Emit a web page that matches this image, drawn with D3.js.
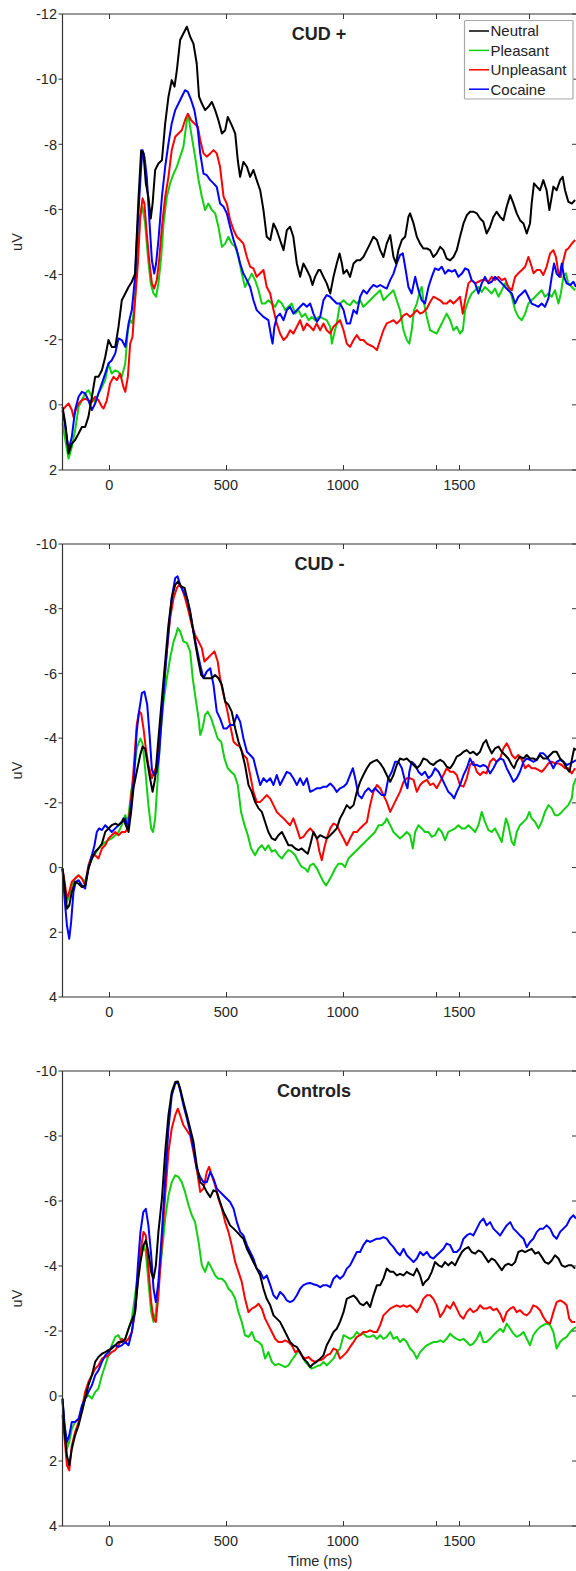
<!DOCTYPE html>
<html><head><meta charset="utf-8">
<script src="https://cdn.jsdelivr.net/npm/d3@7"></script>
<style>html,body{margin:0;padding:0;background:#fff}</style>
</head><body><svg id="chart" width="576" height="1571"></svg>
<script>
// ---------------- DATA ----------------
const seriesNames = ["Neutral", "Pleasant", "Unpleasant", "Cocaine"];
const panelTitles = ["CUD +", "CUD -", "Controls"];
const yTicksPanel1 = [-12, -10, -8, -6, -4, -2, 0, 2];
const yTicksPanel23 = [-10, -8, -6, -4, -2, 0, 2, 4];
const xTicks = [0, 500, 1000, 1500];
const xExtraTicks = [1400, 1800];
const xLabel = "Time (ms)";
const yLabel = "uV";

// CUD + : [time ms, amplitude uV]
const cudPlusNeutral = [[-200,0.06],[-188,0.57],[-174,1.49],[-160,1.19],[-146,1.08],[-131,0.88],[-117,0.68],[-103,0.68],[-89,0.37],[-74,-0.25],[-60,-0.86],[-46,-0.86],[-31,-1.06],[-17,-1.47],[-3,-1.99],[11,-1.78],[26,-1.78],[40,-2.40],[54,-3.21],[69,-3.42],[83,-3.62],[97,-3.78],[111,-4.03],[118,-5.16],[126,-6.39],[137,-7.82],[147,-7.72],[157,-6.80],[168,-6.39],[178,-5.72],[186,-6.18],[197,-7.21],[211,-7.41],[226,-7.51],[240,-8.64],[254,-9.46],[268,-9.97],[280,-9.77],[290,-10.28],[304,-11.20],[318,-11.40],[333,-11.61],[347,-11.30],[361,-11.09],[375,-10.48],[385,-9.46],[397,-9.25],[411,-9.05],[425,-9.15],[440,-9.30],[454,-9.05],[468,-8.74],[483,-8.33],[497,-8.43],[508,-8.84],[525,-8.59],[540,-8.33],[551,-7.51],[561,-7.00],[575,-7.46],[590,-7.31],[604,-7.00],[618,-7.21],[632,-6.90],[647,-6.59],[661,-5.98],[675,-5.16],[690,-5.06],[704,-5.57],[718,-5.36],[732,-5.06],[747,-4.75],[761,-5.36],[775,-5.47],[789,-5.16],[804,-4.34],[818,-3.93],[832,-4.34],[847,-4.14],[861,-3.93],[871,-3.68],[882,-3.93],[897,-4.14],[904,-4.14],[918,-3.93],[932,-3.73],[947,-3.42],[961,-3.93],[975,-4.34],[987,-4.65],[997,-4.34],[1004,-4.03],[1018,-4.14],[1032,-3.93],[1047,-4.34],[1061,-4.44],[1075,-4.44],[1089,-4.54],[1104,-4.75],[1118,-4.95],[1132,-5.16],[1147,-5.06],[1161,-4.75],[1175,-4.54],[1189,-4.95],[1204,-5.21],[1218,-4.54],[1229,-4.34],[1239,-4.75],[1254,-5.06],[1268,-5.16],[1282,-5.77],[1289,-5.88],[1304,-5.57],[1318,-5.16],[1332,-4.95],[1346,-4.80],[1361,-4.80],[1375,-4.75],[1389,-4.54],[1403,-4.65],[1418,-4.85],[1432,-4.75],[1446,-4.49],[1461,-4.44],[1475,-4.54],[1489,-4.75],[1503,-5.16],[1518,-5.57],[1532,-5.82],[1546,-5.93],[1560,-5.93],[1575,-5.88],[1589,-5.72],[1603,-5.62],[1617,-5.26],[1632,-5.47],[1646,-5.77],[1660,-5.93],[1675,-5.77],[1689,-5.67],[1703,-6.08],[1718,-6.44],[1732,-6.18],[1746,-5.88],[1760,-5.67],[1775,-5.57],[1789,-5.26],[1803,-5.57],[1810,-6.18],[1820,-6.80],[1832,-6.70],[1846,-6.59],[1860,-6.90],[1874,-6.59],[1886,-5.98],[1896,-6.39],[1903,-6.70],[1917,-6.59],[1932,-6.90],[1943,-7.00],[1953,-6.59],[1967,-6.24],[1982,-6.18],[1996,-6.29]];
const cudPlusPleasant = [[-200,0.57],[-188,1.08],[-174,1.65],[-160,1.29],[-146,0.78],[-131,0.06],[-117,-0.14],[-103,-0.35],[-89,-0.45],[-74,-0.25],[-60,-0.09],[-46,-0.35],[-31,-0.55],[-17,-0.76],[-3,-1.27],[11,-0.96],[26,-1.06],[40,-1.01],[54,-0.86],[69,-1.27],[80,-2.29],[90,-2.60],[100,-2.50],[111,-3.32],[123,-4.75],[133,-5.77],[143,-6.08],[154,-5.57],[166,-4.54],[178,-3.73],[190,-3.42],[201,-3.32],[211,-3.73],[223,-4.54],[233,-5.57],[247,-6.39],[261,-6.80],[276,-7.10],[290,-7.31],[304,-7.62],[318,-7.92],[333,-8.74],[340,-8.84],[354,-8.23],[368,-7.62],[383,-6.90],[397,-6.39],[411,-5.98],[425,-6.18],[440,-5.98],[454,-5.88],[468,-5.47],[483,-4.85],[497,-4.95],[511,-5.16],[525,-4.95],[540,-4.85],[554,-4.54],[568,-4.03],[582,-3.62],[597,-3.83],[611,-4.03],[625,-3.83],[640,-3.52],[654,-3.11],[668,-3.11],[682,-3.21],[697,-3.11],[711,-3.01],[725,-3.21],[740,-3.11],[754,-2.91],[768,-3.01],[782,-3.11],[797,-2.80],[811,-2.91],[825,-2.70],[840,-2.80],[854,-2.60],[868,-2.70],[882,-2.60],[897,-2.70],[904,-2.70],[918,-2.65],[932,-2.60],[947,-2.40],[954,-1.88],[964,-2.19],[975,-2.50],[989,-3.11],[1004,-3.21],[1018,-3.11],[1032,-3.06],[1047,-3.21],[1061,-3.11],[1075,-3.21],[1089,-3.01],[1104,-3.11],[1118,-3.21],[1132,-3.32],[1147,-3.42],[1161,-3.52],[1175,-3.21],[1189,-3.32],[1204,-3.42],[1218,-3.52],[1232,-3.21],[1246,-2.91],[1261,-2.29],[1275,-1.99],[1286,-1.88],[1296,-2.29],[1306,-2.91],[1318,-3.11],[1332,-3.52],[1339,-3.62],[1346,-3.21],[1361,-2.70],[1375,-2.29],[1389,-2.24],[1403,-2.19],[1418,-2.40],[1432,-2.60],[1446,-2.80],[1461,-2.60],[1475,-2.29],[1489,-2.40],[1503,-2.19],[1515,-2.29],[1525,-2.91],[1539,-3.21],[1553,-3.42],[1568,-3.52],[1582,-3.62],[1596,-3.47],[1610,-3.62],[1625,-3.52],[1639,-3.42],[1653,-3.57],[1668,-3.32],[1682,-3.52],[1696,-3.73],[1710,-3.62],[1725,-3.32],[1739,-2.91],[1753,-2.70],[1768,-2.60],[1782,-2.80],[1796,-3.11],[1810,-3.21],[1825,-3.32],[1839,-3.42],[1853,-3.52],[1867,-3.32],[1882,-3.42],[1896,-3.32],[1910,-3.52],[1925,-3.11],[1935,-3.42],[1946,-3.93],[1957,-4.04],[1967,-3.73],[1982,-3.62],[1996,-3.52]];
const cudPlusUnpleasant = [[-200,0.16],[-188,0.06],[-174,-0.04],[-160,0.16],[-153,0.37],[-143,0.16],[-131,-0.04],[-117,-0.14],[-103,-0.19],[-89,-0.14],[-74,-0.09],[-60,-0.25],[-46,-0.14],[-31,0.06],[-24,0.11],[-10,-0.14],[4,-0.66],[19,-0.86],[33,-0.76],[47,-0.96],[61,-0.55],[69,-0.40],[80,-0.86],[90,-1.88],[100,-2.09],[111,-3.21],[123,-4.34],[133,-5.77],[143,-6.34],[151,-6.18],[161,-5.26],[173,-4.34],[183,-3.73],[193,-3.57],[204,-3.83],[214,-4.44],[226,-5.47],[240,-6.39],[254,-7.00],[268,-7.82],[283,-8.23],[297,-8.33],[311,-8.43],[325,-8.74],[337,-8.94],[351,-8.74],[365,-8.64],[380,-8.53],[390,-8.13],[404,-7.72],[418,-7.62],[433,-7.72],[447,-7.82],[461,-7.72],[475,-7.31],[490,-6.39],[504,-6.18],[518,-5.67],[533,-5.37],[547,-5.16],[561,-5.06],[575,-4.95],[590,-4.54],[604,-4.24],[618,-4.19],[632,-3.93],[647,-4.04],[661,-4.14],[675,-3.62],[690,-3.42],[704,-2.91],[718,-2.50],[732,-2.19],[747,-1.99],[761,-2.09],[775,-2.29],[789,-2.19],[804,-2.40],[818,-2.60],[832,-2.29],[847,-2.50],[861,-2.40],[875,-2.29],[889,-2.50],[904,-2.29],[918,-2.50],[932,-2.29],[947,-2.19],[961,-2.40],[975,-2.50],[989,-2.60],[1004,-2.29],[1018,-1.88],[1032,-1.78],[1047,-1.99],[1061,-2.14],[1075,-1.99],[1089,-1.99],[1104,-1.88],[1118,-1.83],[1132,-1.78],[1147,-1.68],[1161,-1.99],[1175,-2.29],[1189,-2.50],[1204,-2.55],[1218,-2.60],[1232,-2.50],[1246,-2.60],[1261,-2.75],[1275,-2.80],[1289,-2.70],[1304,-2.80],[1318,-2.91],[1332,-2.80],[1346,-2.85],[1361,-2.96],[1375,-3.16],[1389,-3.32],[1403,-3.27],[1418,-3.21],[1432,-3.11],[1446,-3.11],[1461,-3.21],[1475,-3.11],[1489,-3.21],[1503,-3.32],[1515,-2.80],[1525,-3.21],[1539,-3.73],[1553,-3.83],[1568,-3.73],[1582,-3.78],[1596,-3.83],[1610,-3.83],[1625,-3.78],[1639,-3.93],[1653,-3.83],[1668,-3.93],[1682,-3.83],[1696,-3.88],[1710,-3.62],[1725,-3.52],[1739,-3.93],[1753,-4.04],[1768,-4.14],[1782,-4.24],[1796,-4.54],[1806,-4.34],[1818,-4.04],[1832,-4.14],[1846,-4.14],[1860,-3.99],[1874,-4.24],[1889,-4.65],[1903,-4.75],[1914,-4.54],[1925,-4.04],[1935,-3.93],[1946,-4.44],[1957,-4.75],[1967,-4.80],[1982,-4.95],[1996,-5.06]];
const cudPlusCocaine = [[-200,0.16],[-188,0.68],[-174,1.39],[-160,0.98],[-146,0.16],[-131,-0.25],[-117,-0.40],[-103,-0.35],[-89,-0.14],[-74,0.16],[-60,-0.04],[-46,-0.35],[-31,-0.66],[-17,-0.96],[-3,-1.27],[11,-1.37],[26,-1.58],[40,-2.04],[54,-1.99],[69,-1.78],[83,-2.50],[97,-2.91],[111,-3.93],[118,-4.95],[126,-5.98],[137,-7.31],[143,-7.82],[151,-7.62],[161,-7.00],[173,-5.57],[183,-4.44],[193,-4.03],[201,-4.34],[211,-5.06],[226,-6.39],[240,-7.31],[254,-8.03],[268,-8.64],[283,-9.05],[297,-9.25],[311,-9.46],[325,-9.66],[337,-9.61],[351,-9.36],[365,-9.05],[380,-8.43],[390,-7.72],[404,-7.10],[418,-7.05],[433,-6.90],[447,-6.80],[461,-6.69],[475,-6.18],[490,-6.08],[504,-5.88],[518,-5.47],[533,-5.06],[547,-4.75],[561,-4.34],[575,-4.03],[590,-3.83],[604,-3.62],[618,-3.21],[632,-2.91],[647,-2.80],[661,-2.70],[682,-2.60],[694,-2.09],[700,-1.88],[708,-2.40],[718,-2.70],[732,-2.80],[747,-2.60],[761,-2.91],[775,-3.01],[789,-2.80],[804,-2.91],[818,-3.01],[832,-3.11],[847,-3.01],[861,-3.11],[875,-2.80],[890,-2.55],[904,-2.70],[918,-3.21],[932,-3.37],[947,-3.32],[961,-3.21],[975,-3.11],[989,-3.11],[1004,-2.91],[1018,-2.50],[1032,-2.50],[1047,-2.91],[1061,-2.80],[1075,-3.32],[1089,-3.52],[1104,-3.42],[1118,-3.57],[1132,-3.68],[1147,-3.62],[1161,-3.68],[1175,-3.62],[1189,-3.57],[1204,-3.83],[1218,-4.03],[1232,-4.34],[1246,-4.60],[1258,-4.65],[1268,-4.24],[1282,-3.62],[1296,-3.42],[1311,-3.93],[1325,-3.52],[1339,-3.21],[1353,-3.11],[1368,-3.62],[1382,-3.93],[1396,-4.19],[1411,-4.14],[1425,-4.24],[1439,-4.03],[1453,-4.14],[1468,-4.09],[1482,-4.14],[1496,-3.93],[1511,-4.03],[1525,-4.19],[1539,-4.14],[1553,-3.83],[1568,-3.73],[1582,-3.42],[1596,-3.73],[1610,-3.93],[1625,-3.73],[1639,-3.78],[1653,-3.93],[1668,-3.83],[1682,-3.73],[1696,-3.62],[1710,-3.52],[1725,-3.42],[1739,-3.11],[1753,-3.32],[1768,-3.42],[1782,-3.52],[1796,-3.32],[1810,-3.11],[1825,-3.06],[1839,-3.01],[1853,-3.11],[1867,-3.01],[1882,-3.27],[1896,-3.93],[1906,-4.34],[1917,-4.03],[1929,-3.93],[1939,-4.34],[1949,-3.93],[1960,-3.73],[1975,-3.68],[1989,-3.78],[2000,-3.62]];

// CUD -
const cudMinusNeutral = [[-200,0.03],[-191,0.55],[-181,1.27],[-171,1.17],[-160,0.75],[-146,0.44],[-131,0.50],[-117,0.60],[-103,0.55],[-89,0.03],[-74,-0.28],[-60,-0.49],[-46,-0.59],[-31,-0.74],[-17,-1.10],[-3,-1.21],[11,-1.31],[26,-1.36],[40,-1.31],[54,-1.41],[61,-1.52],[71,-1.31],[83,-1.10],[94,-1.72],[104,-2.45],[118,-2.96],[133,-3.48],[143,-3.74],[154,-3.67],[166,-3.15],[175,-2.76],[186,-2.34],[197,-2.76],[211,-3.99],[226,-5.23],[240,-6.37],[254,-7.50],[268,-8.33],[283,-8.74],[294,-8.84],[308,-8.69],[323,-8.64],[337,-8.23],[351,-7.71],[365,-7.09],[380,-6.47],[394,-5.95],[408,-5.85],[422,-5.85],[440,-5.85],[454,-5.95],[468,-5.85],[483,-5.64],[497,-5.13],[511,-5.03],[525,-4.82],[540,-4.30],[554,-3.89],[568,-3.58],[582,-3.17],[597,-2.55],[611,-2.34],[625,-2.03],[640,-1.83],[654,-1.72],[668,-1.41],[682,-1.10],[697,-0.90],[711,-0.85],[725,-1.00],[740,-1.10],[754,-0.90],[768,-0.69],[782,-0.69],[797,-0.59],[811,-0.54],[825,-0.59],[840,-0.49],[851,-0.43],[861,-0.69],[875,-1.10],[890,-0.90],[904,-1.00],[918,-0.95],[932,-0.90],[947,-1.00],[961,-1.10],[975,-1.21],[989,-1.52],[1004,-1.72],[1018,-1.93],[1032,-1.83],[1047,-1.93],[1061,-2.34],[1075,-2.65],[1089,-2.86],[1104,-3.07],[1118,-3.22],[1132,-3.28],[1147,-3.33],[1161,-3.22],[1175,-3.07],[1189,-2.86],[1204,-2.65],[1218,-2.86],[1232,-3.17],[1246,-3.37],[1261,-3.33],[1275,-3.37],[1289,-3.27],[1304,-3.17],[1318,-3.07],[1332,-3.17],[1346,-3.37],[1361,-3.33],[1375,-3.22],[1389,-3.17],[1403,-3.27],[1418,-3.33],[1432,-3.27],[1446,-3.12],[1461,-3.07],[1475,-3.22],[1489,-3.43],[1503,-3.48],[1518,-3.58],[1532,-3.63],[1546,-3.53],[1560,-3.58],[1575,-3.48],[1589,-3.58],[1603,-3.84],[1615,-3.94],[1625,-3.74],[1639,-3.53],[1653,-3.68],[1668,-3.74],[1682,-3.58],[1696,-3.48],[1710,-3.37],[1725,-3.17],[1735,-3.07],[1746,-3.28],[1760,-3.43],[1775,-3.37],[1789,-3.48],[1803,-3.37],[1817,-3.37],[1832,-3.33],[1846,-3.48],[1860,-3.37],[1874,-3.37],[1889,-3.48],[1903,-3.58],[1917,-3.58],[1932,-3.37],[1946,-3.27],[1960,-3.07],[1972,-2.96],[1982,-3.33],[1992,-3.68],[2000,-3.63]];
const cudMinusPleasant = [[-200,0.03],[-191,0.55],[-181,1.06],[-171,0.86],[-160,0.55],[-146,0.34],[-131,0.24],[-117,0.34],[-103,0.44],[-89,0.03],[-74,-0.28],[-60,-0.43],[-46,-0.59],[-31,-0.69],[-17,-0.79],[-3,-0.85],[11,-0.90],[26,-1.00],[40,-1.10],[54,-1.31],[69,-1.62],[80,-1.41],[94,-2.34],[104,-2.76],[118,-3.68],[133,-3.99],[143,-3.84],[154,-3.07],[168,-1.93],[180,-1.21],[188,-1.10],[197,-1.52],[208,-2.76],[218,-3.99],[233,-5.13],[247,-5.85],[261,-6.47],[276,-6.99],[286,-7.19],[294,-7.40],[304,-7.30],[318,-6.99],[333,-6.94],[347,-6.68],[358,-5.85],[368,-5.34],[383,-4.61],[390,-4.10],[400,-4.30],[411,-4.72],[422,-4.82],[437,-4.61],[451,-4.30],[465,-3.99],[480,-3.89],[494,-3.37],[508,-3.07],[522,-2.96],[537,-2.86],[551,-2.55],[565,-1.72],[580,-1.31],[594,-1.00],[608,-0.59],[625,-0.38],[640,-0.59],[654,-0.69],[668,-0.54],[682,-0.69],[697,-0.49],[711,-0.54],[725,-0.38],[740,-0.28],[754,-0.43],[768,-0.54],[782,-0.49],[797,-0.38],[811,-0.18],[825,-0.02],[840,0.03],[851,0.13],[861,-0.07],[875,-0.12],[890,0.03],[904,0.24],[918,0.44],[929,0.55],[939,0.44],[954,0.24],[968,0.03],[982,-0.12],[997,-0.12],[1011,-0.02],[1025,-0.28],[1039,-0.38],[1054,-0.49],[1068,-0.59],[1082,-0.69],[1096,-0.79],[1111,-0.90],[1125,-1.00],[1139,-1.10],[1154,-1.31],[1168,-1.31],[1182,-1.41],[1189,-1.52],[1204,-1.31],[1218,-1.10],[1232,-1.00],[1246,-0.90],[1261,-1.00],[1275,-1.10],[1289,-1.00],[1301,-0.59],[1311,-1.10],[1325,-1.31],[1339,-1.21],[1353,-1.10],[1368,-1.10],[1382,-0.95],[1396,-1.00],[1411,-1.21],[1425,-1.10],[1439,-0.85],[1453,-1.10],[1468,-1.16],[1482,-1.21],[1496,-1.31],[1511,-1.21],[1525,-1.21],[1539,-1.31],[1553,-1.21],[1568,-1.10],[1582,-1.31],[1596,-1.72],[1610,-1.41],[1625,-1.16],[1639,-1.10],[1653,-1.21],[1668,-1.00],[1682,-0.79],[1689,-1.10],[1700,-1.52],[1710,-1.31],[1725,-0.79],[1735,-0.69],[1746,-1.10],[1760,-1.31],[1775,-1.41],[1789,-1.52],[1800,-1.72],[1810,-1.52],[1825,-1.41],[1839,-1.21],[1853,-1.41],[1867,-1.72],[1882,-1.93],[1896,-1.83],[1910,-1.62],[1925,-1.62],[1939,-1.72],[1953,-1.83],[1967,-1.93],[1982,-2.14],[1989,-2.55],[2000,-2.76]];
const cudMinusUnpleasant = [[-200,0.03],[-191,0.44],[-181,0.96],[-171,0.75],[-160,0.44],[-146,0.34],[-131,0.24],[-117,0.34],[-103,0.55],[-89,-0.07],[-74,-0.38],[-60,-0.38],[-46,-0.28],[-31,-0.59],[-17,-0.69],[-3,-0.90],[11,-1.00],[26,-1.10],[40,-1.00],[54,-1.10],[69,-1.10],[80,-1.21],[94,-2.13],[104,-2.96],[118,-4.41],[128,-4.82],[137,-4.77],[147,-4.30],[157,-3.68],[168,-3.17],[183,-2.76],[193,-2.96],[204,-3.17],[218,-4.20],[233,-5.54],[247,-6.68],[261,-7.71],[276,-8.33],[290,-8.64],[300,-8.74],[311,-8.64],[325,-8.33],[340,-7.92],[354,-7.50],[368,-7.19],[383,-6.99],[397,-6.78],[408,-6.37],[422,-6.47],[437,-6.58],[451,-6.68],[465,-6.37],[475,-5.85],[490,-5.34],[504,-4.92],[518,-4.41],[533,-3.89],[547,-3.79],[561,-3.74],[575,-3.48],[590,-3.37],[604,-2.86],[618,-2.34],[632,-2.03],[647,-2.03],[661,-2.13],[675,-2.24],[690,-2.13],[704,-1.93],[718,-1.72],[732,-1.62],[747,-1.52],[761,-1.41],[775,-1.31],[789,-1.52],[804,-1.21],[818,-0.90],[832,-0.95],[847,-1.10],[861,-1.21],[875,-1.10],[890,-0.90],[901,-0.49],[911,-0.23],[921,-0.59],[932,-0.90],[947,-1.21],[961,-1.36],[975,-1.31],[989,-1.10],[1004,-0.90],[1018,-0.69],[1032,-0.90],[1047,-1.10],[1061,-1.10],[1075,-1.21],[1089,-1.31],[1104,-1.41],[1118,-1.93],[1132,-2.34],[1147,-2.55],[1161,-2.45],[1175,-2.24],[1189,-2.03],[1204,-1.72],[1218,-1.93],[1232,-2.14],[1246,-2.34],[1261,-2.65],[1275,-2.76],[1289,-2.76],[1304,-2.71],[1318,-2.34],[1332,-2.55],[1346,-2.65],[1361,-2.71],[1375,-2.55],[1389,-2.60],[1403,-2.45],[1418,-2.65],[1432,-2.86],[1446,-3.07],[1461,-2.96],[1475,-2.96],[1489,-2.86],[1503,-2.55],[1518,-2.50],[1532,-2.76],[1546,-3.17],[1560,-3.27],[1575,-2.96],[1589,-2.86],[1603,-2.96],[1617,-2.91],[1632,-3.27],[1646,-3.37],[1660,-3.27],[1675,-3.37],[1689,-3.68],[1703,-3.84],[1715,-3.68],[1725,-3.48],[1739,-3.37],[1753,-3.48],[1768,-3.33],[1782,-3.07],[1796,-3.17],[1810,-3.07],[1825,-3.07],[1839,-3.02],[1853,-2.96],[1867,-3.07],[1882,-3.22],[1896,-3.27],[1910,-3.22],[1925,-3.22],[1939,-3.17],[1953,-3.07],[1967,-3.07],[1982,-2.91],[1996,-3.07]];
const cudMinusCocaine = [[-200,0.03],[-191,0.96],[-181,1.79],[-171,2.20],[-163,1.68],[-153,0.75],[-143,0.44],[-131,0.39],[-117,0.55],[-103,0.65],[-89,0.03],[-74,-0.38],[-63,-0.69],[-53,-1.10],[-43,-1.21],[-31,-1.16],[-17,-1.31],[-3,-1.21],[11,-1.10],[26,-1.21],[40,-1.31],[54,-1.41],[69,-1.52],[80,-1.21],[94,-1.93],[104,-2.55],[118,-4.20],[128,-4.82],[140,-5.39],[151,-5.44],[163,-5.03],[173,-4.10],[183,-3.03],[193,-2.86],[204,-2.96],[214,-3.48],[226,-4.72],[240,-6.06],[254,-7.30],[268,-8.33],[283,-8.95],[293,-9.00],[304,-8.74],[318,-8.53],[333,-8.33],[347,-7.92],[361,-7.30],[375,-6.78],[390,-6.26],[404,-5.85],[418,-6.06],[433,-6.16],[447,-5.64],[461,-4.82],[475,-4.61],[490,-4.30],[504,-4.30],[518,-4.41],[533,-4.41],[547,-4.72],[561,-4.51],[575,-4.00],[590,-3.58],[604,-3.48],[618,-3.37],[632,-2.96],[647,-2.55],[661,-2.76],[675,-2.65],[690,-2.76],[704,-2.55],[718,-2.86],[732,-2.55],[747,-2.76],[761,-2.96],[775,-2.91],[789,-2.76],[804,-2.55],[818,-2.76],[832,-2.55],[847,-2.76],[861,-2.34],[875,-2.39],[889,-2.45],[904,-2.45],[918,-2.50],[932,-2.50],[947,-2.60],[961,-2.50],[975,-2.34],[989,-2.45],[1004,-2.50],[1018,-2.60],[1032,-2.86],[1044,-3.07],[1054,-2.76],[1068,-2.24],[1082,-2.14],[1096,-2.34],[1111,-2.45],[1125,-2.34],[1139,-2.45],[1154,-2.34],[1168,-2.24],[1182,-2.24],[1196,-2.76],[1211,-2.96],[1225,-3.27],[1239,-3.27],[1254,-3.07],[1268,-2.65],[1278,-2.45],[1286,-2.96],[1296,-3.27],[1311,-3.17],[1325,-2.96],[1339,-2.86],[1353,-2.96],[1368,-2.76],[1382,-2.86],[1396,-3.07],[1411,-2.96],[1425,-2.76],[1439,-2.55],[1453,-2.34],[1468,-2.24],[1478,-2.14],[1489,-2.34],[1503,-2.55],[1518,-2.86],[1532,-3.07],[1546,-3.37],[1560,-3.17],[1575,-3.17],[1589,-3.12],[1603,-3.17],[1617,-3.12],[1632,-2.91],[1646,-3.07],[1660,-3.27],[1675,-3.37],[1689,-3.33],[1703,-3.07],[1718,-2.86],[1732,-2.65],[1746,-2.76],[1760,-2.96],[1775,-3.27],[1789,-3.37],[1803,-3.33],[1817,-3.27],[1832,-3.33],[1846,-3.53],[1860,-3.53],[1874,-3.43],[1889,-3.27],[1903,-3.07],[1917,-3.27],[1932,-3.33],[1946,-3.27],[1960,-3.17],[1975,-3.22],[1989,-3.27],[2000,-3.32]];

// Controls
const controlsNeutral = [[-200,0.08],[-191,1.11],[-181,1.83],[-171,2.13],[-160,1.62],[-146,1.21],[-131,0.90],[-117,0.49],[-103,0.08],[-89,-0.33],[-74,-0.64],[-60,-1.05],[-46,-1.20],[-31,-1.30],[-17,-1.35],[-3,-1.41],[11,-1.46],[26,-1.56],[40,-1.66],[54,-1.66],[69,-1.76],[83,-2.07],[97,-2.33],[111,-2.58],[123,-3.51],[134,-4.12],[147,-4.64],[157,-4.79],[168,-4.43],[180,-3.81],[190,-3.61],[200,-4.02],[211,-5.05],[226,-6.07],[240,-7.51],[254,-8.64],[268,-9.35],[283,-9.66],[294,-9.68],[304,-9.46],[318,-9.05],[333,-8.64],[347,-8.23],[361,-7.82],[375,-7.10],[390,-6.58],[404,-6.48],[418,-6.28],[433,-6.12],[447,-6.33],[461,-6.28],[475,-5.97],[490,-5.66],[504,-5.46],[518,-5.25],[533,-5.15],[547,-5.05],[561,-4.94],[575,-4.84],[590,-4.53],[604,-4.33],[618,-4.12],[632,-3.92],[647,-3.71],[661,-3.30],[675,-2.99],[690,-2.79],[704,-2.48],[718,-2.38],[732,-2.28],[747,-2.07],[761,-1.87],[775,-1.66],[789,-1.56],[804,-1.51],[818,-1.35],[832,-1.15],[847,-1.05],[861,-0.89],[875,-0.99],[889,-1.05],[904,-1.15],[918,-1.25],[932,-1.56],[947,-1.76],[961,-1.97],[975,-2.07],[989,-2.28],[1004,-2.58],[1018,-2.99],[1032,-3.04],[1047,-3.09],[1061,-2.99],[1075,-2.84],[1089,-2.79],[1104,-2.89],[1118,-2.74],[1132,-3.09],[1147,-3.41],[1161,-3.41],[1175,-3.61],[1189,-3.92],[1204,-3.82],[1218,-3.82],[1232,-3.71],[1246,-3.76],[1261,-3.71],[1275,-3.82],[1289,-3.76],[1304,-3.71],[1318,-3.92],[1332,-3.71],[1344,-3.41],[1353,-3.51],[1368,-3.61],[1382,-3.82],[1396,-4.12],[1411,-4.02],[1425,-3.97],[1439,-4.12],[1453,-4.02],[1468,-4.12],[1482,-4.02],[1496,-4.23],[1511,-4.43],[1525,-4.53],[1539,-4.58],[1553,-4.43],[1568,-4.38],[1582,-4.48],[1596,-4.43],[1610,-4.28],[1625,-4.12],[1639,-4.23],[1653,-4.17],[1668,-4.02],[1682,-3.87],[1696,-4.02],[1710,-4.07],[1725,-4.02],[1739,-4.12],[1753,-4.43],[1768,-4.48],[1782,-4.43],[1796,-4.48],[1810,-4.53],[1825,-4.38],[1839,-4.43],[1853,-4.28],[1867,-4.12],[1882,-4.07],[1896,-4.17],[1910,-4.33],[1925,-4.23],[1939,-4.02],[1953,-3.97],[1967,-4.02],[1982,-4.02],[1996,-3.92]];
const controlsPleasant = [[-200,0.18],[-191,0.90],[-181,1.62],[-171,1.42],[-160,1.01],[-146,0.80],[-131,0.70],[-117,0.49],[-103,0.08],[-89,-0.02],[-74,0.08],[-60,-0.12],[-46,-0.23],[-31,-0.64],[-17,-0.94],[-3,-1.25],[11,-1.56],[26,-1.82],[40,-1.87],[54,-1.66],[69,-1.76],[83,-2.07],[97,-2.38],[111,-3.10],[123,-3.71],[134,-4.23],[147,-4.64],[157,-4.43],[168,-3.51],[180,-2.58],[190,-2.28],[200,-2.58],[211,-3.41],[226,-4.43],[240,-5.46],[254,-6.17],[268,-6.58],[283,-6.79],[297,-6.74],[311,-6.58],[325,-6.28],[340,-5.87],[354,-5.56],[368,-5.35],[383,-4.74],[397,-4.02],[411,-3.82],[425,-4.12],[440,-3.92],[454,-3.71],[468,-3.61],[483,-3.61],[497,-3.51],[511,-3.30],[525,-3.20],[540,-2.99],[554,-2.58],[568,-2.28],[582,-1.87],[597,-1.82],[611,-1.97],[625,-1.71],[640,-1.66],[654,-1.56],[668,-1.15],[682,-1.35],[697,-1.05],[711,-0.94],[725,-0.99],[740,-0.94],[754,-0.89],[768,-0.94],[782,-1.10],[797,-1.25],[811,-1.41],[825,-1.25],[840,-1.05],[854,-0.94],[868,-0.84],[882,-0.89],[897,-0.94],[904,-0.94],[918,-1.05],[932,-0.94],[947,-1.05],[961,-1.15],[975,-1.35],[989,-1.46],[1004,-1.87],[1018,-1.82],[1032,-1.76],[1047,-1.82],[1061,-1.97],[1075,-1.87],[1089,-1.92],[1104,-1.82],[1118,-1.82],[1132,-1.87],[1147,-1.76],[1161,-1.87],[1175,-1.76],[1189,-1.82],[1204,-1.97],[1218,-1.76],[1232,-1.82],[1246,-1.66],[1261,-1.76],[1275,-1.66],[1289,-1.46],[1304,-1.35],[1318,-1.15],[1332,-1.35],[1346,-1.46],[1361,-1.56],[1375,-1.61],[1389,-1.66],[1403,-1.66],[1418,-1.71],[1432,-1.66],[1446,-1.76],[1461,-1.92],[1475,-1.82],[1489,-1.76],[1503,-1.71],[1518,-1.76],[1532,-1.66],[1546,-1.56],[1560,-1.61],[1575,-1.76],[1589,-1.97],[1603,-1.66],[1617,-1.66],[1632,-1.76],[1646,-1.87],[1660,-1.97],[1675,-2.07],[1689,-1.97],[1703,-2.23],[1718,-2.07],[1732,-1.92],[1746,-1.82],[1760,-1.87],[1775,-1.97],[1789,-1.76],[1803,-1.56],[1817,-1.87],[1832,-2.02],[1846,-2.12],[1860,-2.18],[1874,-2.23],[1889,-2.18],[1903,-1.97],[1917,-1.46],[1932,-1.66],[1946,-1.76],[1960,-1.82],[1975,-1.97],[1989,-2.07],[2000,-2.12]];
const controlsUnpleasant = [[-200,0.59],[-191,1.31],[-181,2.13],[-171,2.29],[-160,1.52],[-146,1.11],[-131,0.80],[-117,0.39],[-103,-0.12],[-89,-0.43],[-74,-0.64],[-60,-0.84],[-46,-0.94],[-31,-1.15],[-17,-1.20],[-3,-1.25],[11,-1.35],[26,-1.41],[40,-1.56],[54,-1.76],[69,-1.66],[83,-1.76],[97,-1.97],[111,-2.58],[123,-3.61],[134,-4.43],[147,-5.05],[157,-4.94],[168,-3.92],[180,-2.89],[190,-2.38],[200,-2.28],[211,-3.10],[226,-4.74],[240,-6.17],[254,-7.51],[268,-8.23],[283,-8.64],[294,-8.84],[304,-8.64],[318,-8.33],[333,-8.17],[347,-8.02],[361,-7.51],[375,-6.99],[390,-6.28],[404,-6.38],[418,-6.89],[428,-7.05],[440,-6.79],[454,-6.48],[468,-6.07],[483,-5.76],[497,-5.35],[511,-5.05],[525,-4.64],[540,-4.12],[554,-3.82],[568,-3.51],[582,-2.99],[597,-2.58],[611,-2.69],[625,-2.74],[640,-2.84],[654,-2.69],[668,-2.38],[682,-2.18],[697,-1.97],[711,-1.76],[725,-1.66],[740,-1.66],[754,-1.71],[768,-1.66],[782,-1.56],[797,-1.35],[811,-1.41],[825,-1.25],[840,-1.15],[854,-1.20],[868,-1.10],[882,-1.05],[897,-1.10],[904,-1.10],[918,-1.15],[932,-1.25],[947,-1.30],[961,-1.46],[975,-1.41],[989,-1.15],[1004,-1.25],[1018,-1.35],[1032,-1.51],[1047,-1.66],[1061,-1.82],[1075,-1.87],[1089,-1.97],[1104,-1.97],[1118,-2.02],[1132,-1.97],[1147,-1.97],[1161,-2.18],[1175,-2.48],[1189,-2.58],[1204,-2.69],[1218,-2.74],[1232,-2.79],[1246,-2.74],[1261,-2.79],[1275,-2.74],[1289,-2.79],[1304,-2.69],[1318,-2.58],[1332,-2.74],[1346,-2.99],[1361,-3.10],[1375,-3.10],[1389,-2.99],[1403,-2.79],[1418,-2.43],[1432,-2.58],[1446,-2.79],[1461,-2.69],[1475,-2.89],[1489,-2.69],[1503,-2.48],[1518,-2.38],[1532,-2.58],[1546,-2.69],[1560,-2.58],[1575,-2.64],[1589,-2.79],[1603,-2.69],[1617,-2.69],[1632,-2.74],[1646,-2.64],[1660,-2.69],[1675,-2.53],[1689,-2.28],[1703,-2.58],[1718,-2.69],[1732,-2.74],[1746,-2.58],[1760,-2.64],[1775,-2.53],[1789,-2.48],[1803,-2.58],[1817,-2.79],[1832,-2.74],[1846,-2.64],[1860,-2.43],[1874,-2.28],[1889,-2.23],[1903,-2.58],[1917,-2.89],[1932,-2.94],[1946,-2.89],[1960,-2.79],[1971,-2.38],[1982,-2.28],[1996,-2.28]];
const controlsCocaine = [[-200,0.08],[-191,0.90],[-181,1.42],[-171,1.21],[-160,0.80],[-146,0.80],[-131,0.70],[-117,0.29],[-103,0.08],[-89,-0.12],[-74,-0.33],[-60,-0.64],[-46,-0.79],[-31,-1.05],[-17,-1.25],[-3,-1.35],[11,-1.51],[26,-1.56],[40,-1.51],[54,-1.56],[69,-1.66],[83,-1.56],[97,-1.97],[111,-2.69],[123,-4.02],[134,-5.05],[146,-5.66],[157,-5.76],[168,-5.25],[180,-4.33],[190,-3.30],[200,-2.89],[211,-3.51],[226,-5.05],[240,-6.69],[254,-8.23],[268,-9.25],[283,-9.61],[294,-9.66],[304,-9.41],[318,-8.95],[333,-8.54],[347,-8.12],[361,-7.61],[375,-6.99],[390,-6.74],[404,-6.58],[418,-6.58],[433,-6.89],[447,-6.69],[461,-6.38],[475,-6.28],[490,-6.17],[504,-6.07],[518,-5.97],[533,-5.76],[547,-5.35],[561,-5.05],[575,-4.94],[590,-4.64],[604,-4.43],[618,-4.23],[632,-3.92],[647,-3.82],[661,-3.61],[675,-3.71],[690,-3.41],[704,-3.10],[718,-2.99],[732,-3.20],[747,-3.10],[761,-2.94],[775,-2.89],[789,-2.94],[804,-3.10],[818,-3.30],[832,-3.41],[847,-3.46],[861,-3.48],[875,-3.44],[890,-3.41],[904,-3.35],[918,-3.41],[932,-3.41],[947,-3.35],[961,-3.61],[975,-3.71],[989,-3.61],[1004,-3.71],[1018,-3.92],[1032,-4.02],[1047,-4.23],[1061,-4.43],[1075,-4.43],[1089,-4.64],[1104,-4.79],[1118,-4.74],[1132,-4.79],[1147,-4.84],[1161,-4.84],[1175,-4.89],[1189,-4.84],[1204,-4.69],[1218,-4.58],[1232,-4.43],[1246,-4.33],[1261,-4.53],[1275,-4.33],[1289,-4.23],[1304,-4.12],[1318,-4.23],[1332,-4.43],[1346,-4.33],[1361,-4.43],[1375,-4.28],[1389,-4.23],[1403,-4.33],[1418,-4.43],[1432,-4.53],[1446,-4.69],[1461,-4.64],[1475,-4.43],[1489,-4.43],[1503,-4.53],[1518,-4.84],[1532,-4.94],[1546,-5.00],[1560,-4.94],[1575,-5.15],[1589,-5.35],[1603,-5.46],[1617,-5.25],[1632,-5.35],[1646,-5.15],[1660,-5.05],[1675,-4.94],[1689,-5.10],[1703,-5.25],[1718,-5.35],[1732,-5.15],[1746,-5.05],[1760,-4.94],[1775,-4.84],[1789,-4.58],[1803,-4.74],[1817,-4.84],[1832,-5.05],[1846,-5.15],[1860,-5.15],[1874,-5.25],[1889,-5.15],[1903,-4.94],[1917,-4.84],[1932,-5.05],[1946,-5.15],[1960,-5.25],[1975,-5.46],[1989,-5.56],[2000,-5.46]];

// ---------------- DRAWING ----------------
const colors = {Neutral: "#000000", Pleasant: "#10d010", Unpleasant: "#ff0000", Cocaine: "#0000ff"};
const drawOrder = ["Pleasant", "Unpleasant", "Cocaine", "Neutral"];

const panels = [
  {title: panelTitles[0], titleX: 319, top: 14, bottom: 470, yDomain: [-12, 2], yTicks: yTicksPanel1, legend: true,
   series: {Neutral: cudPlusNeutral, Pleasant: cudPlusPleasant, Unpleasant: cudPlusUnpleasant, Cocaine: cudPlusCocaine}},
  {title: panelTitles[1], titleX: 319.5, top: 544, bottom: 997, yDomain: [-10, 4], yTicks: yTicksPanel23, legend: false,
   series: {Neutral: cudMinusNeutral, Pleasant: cudMinusPleasant, Unpleasant: cudMinusUnpleasant, Cocaine: cudMinusCocaine}},
  {title: panelTitles[2], titleX: 314, top: 1071, bottom: 1526, yDomain: [-10, 4], yTicks: yTicksPanel23, legend: false, xLabel: true,
   series: {Neutral: controlsNeutral, Pleasant: controlsPleasant, Unpleasant: controlsUnpleasant, Cocaine: controlsCocaine}}
];

const svg = d3.select("#chart");
svg.append("rect").attr("width", 576).attr("height", 1571).attr("fill", "#fff");

const left = 62.5, right = 576;
const x = d3.scaleLinear().domain([-200, 2000]).range([left, right]);
const axisColor = "#333";
const textColor = "#262626";
const font = "Arial, 'Liberation Sans', Helvetica, sans-serif";

panels.forEach(p => {
  const y = d3.scaleLinear().domain(p.yDomain).range([p.top, p.bottom]);
  const g = svg.append("g");

  // series
  const line = d3.line().x(d => x(d[0])).y(d => y(d[1]));
  drawOrder.forEach(name => {
    g.append("path").datum(p.series[name])
      .attr("d", line).attr("fill", "none")
      .attr("stroke", colors[name]).attr("stroke-width", 2)
      .attr("stroke-linejoin", "round");
  });

  // frame
  g.append("line").attr("x1", left).attr("x2", left).attr("y1", p.top).attr("y2", p.bottom)
    .attr("stroke", axisColor).attr("stroke-width", 1.2);
  g.append("line").attr("x1", left).attr("x2", right).attr("y1", p.top).attr("y2", p.top)
    .attr("stroke", axisColor).attr("stroke-width", 1.2);
  g.append("line").attr("x1", left).attr("x2", right).attr("y1", p.bottom).attr("y2", p.bottom)
    .attr("stroke", axisColor).attr("stroke-width", 1.2);

  // x ticks (inward, top and bottom)
  xTicks.concat(xExtraTicks).forEach(t => {
    const xx = Math.round(x(t)) + 0.5;
    g.append("line").attr("x1", xx).attr("x2", xx).attr("y1", p.bottom).attr("y2", p.bottom - 5)
      .attr("stroke", axisColor).attr("stroke-width", 1);
    g.append("line").attr("x1", xx).attr("x2", xx).attr("y1", p.top).attr("y2", p.top + 5)
      .attr("stroke", axisColor).attr("stroke-width", 1);
  });
  xTicks.forEach(t => {
    g.append("text").attr("x", x(t)).attr("y", p.bottom + 20)
      .attr("text-anchor", "middle").attr("font-family", font).attr("font-size", 14.5)
      .attr("fill", textColor).text(t);
  });

  // y ticks
  p.yTicks.forEach(v => {
    const yy = y(v);
    g.append("line").attr("x1", left - 4).attr("x2", left).attr("y1", yy).attr("y2", yy)
      .attr("stroke", axisColor).attr("stroke-width", 1);
    g.append("line").attr("x1", right - 4).attr("x2", right).attr("y1", yy).attr("y2", yy)
      .attr("stroke", axisColor).attr("stroke-width", 1);
    g.append("text").attr("x", 57).attr("y", yy).attr("dy", "0.36em")
      .attr("text-anchor", "end").attr("font-family", font).attr("font-size", 14.5)
      .attr("fill", textColor).text(v);
  });

  // y label
  const cy = (p.top + p.bottom) / 2;
  g.append("text").attr("transform", `translate(22,${cy}) rotate(-90)`)
    .attr("text-anchor", "middle").attr("font-family", font).attr("font-size", 14.5)
    .attr("fill", textColor).text(yLabel);

  // title
  g.append("text").attr("x", p.titleX).attr("y", p.top + 25.5)
    .attr("text-anchor", "middle").attr("font-family", font).attr("font-size", 18)
    .attr("font-weight", "bold").attr("fill", "#222").text(p.title);

  if (p.xLabel) {
    g.append("text").attr("x", 320).attr("y", 1566)
      .attr("text-anchor", "middle").attr("font-family", font).attr("font-size", 14.5)
      .attr("fill", textColor).text(xLabel);
  }

  if (p.legend) {
    const lg = g.append("g");
    lg.append("rect").attr("x", 464.5).attr("y", 20.5).attr("width", 108.5).attr("height", 78.5)
      .attr("fill", "#fff").attr("stroke", "#a8a8a8").attr("stroke-width", 1.2).attr("rx", 1);
    const legendOrder = ["Neutral", "Pleasant", "Unpleasant", "Cocaine"];
    legendOrder.forEach((name, i) => {
      const ly = 31 + i * 19.4;
      lg.append("line").attr("x1", 469).attr("x2", 489).attr("y1", ly).attr("y2", ly)
        .attr("stroke", colors[name]).attr("stroke-width", 1.5);
      lg.append("text").attr("x", 490.5).attr("y", ly).attr("dy", "0.36em")
        .attr("font-family", font).attr("font-size", 15).attr("fill", "#222").text(name);
    });
  }
});
</script>
</body></html>
